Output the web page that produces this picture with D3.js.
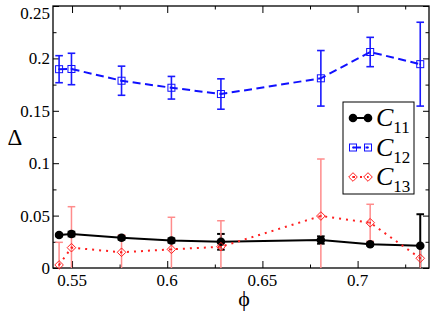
<!DOCTYPE html>
<html>
<head>
<meta charset="utf-8">
<script src="https://cdn.jsdelivr.net/npm/d3@7"></script>
<style>
  body { margin: 0; background: #fff; }
  svg { display: block; }
</style>
</head>
<body>
<div id="chart"></div>
<script>
// --- data ---
const phi    = [0.5432, 0.5497, 0.5760, 0.6022, 0.6282, 0.6807, 0.7066, 0.7329];
const c11    = [0.0315, 0.0324, 0.0288, 0.0262, 0.0250, 0.0267, 0.0226, 0.0213];
const c11Err = [0.0012, 0.0022, 0.0018, 0.0020, 0.0075, 0.0035, 0.0012, 0.0300];
const c12    = [0.1897, 0.1899, 0.1787, 0.1720, 0.1660, 0.1810, 0.2061, 0.1945];
const c12Err = [0.0129, 0.0150, 0.0139, 0.0108, 0.0145, 0.0265, 0.0140, 0.0400];
const c13    = [0.0029, 0.0194, 0.0150, 0.0178, 0.0203, 0.0496, 0.0432, 0.0093];
const c13Err = [0.0216, 0.0391, 0.0165, 0.0306, 0.0248, 0.0544, 0.0176, 0.0120];

const xTicks = [0.55, 0.6, 0.65, 0.7];
const xMinor = [0.575, 0.625, 0.675, 0.725];
const yTicks = [0, 0.05, 0.1, 0.15, 0.2, 0.25];
const yMinor = [0.025, 0.075, 0.125, 0.175, 0.225];

const FONT = "'Liberation Serif', 'Times New Roman', Times, 'DejaVu Serif', serif";

const W = 436, H = 312;
const margin = { top: 6, right: 7, bottom: 44, left: 53 };
const iw = W - margin.left - margin.right;
const ih = H - margin.top - margin.bottom;

const svg = d3.select("#chart").append("svg").attr("width", W).attr("height", H)
  .attr("font-family", FONT).style("font-family", FONT);
const g = svg.append("g").attr("transform", `translate(${margin.left},${margin.top})`);

const x = d3.scaleLinear().domain([0.54, 0.7375]).range([0, iw]);
const y = d3.scaleLinear().domain([0, 0.25]).range([ih, 0]);

svg.append("defs").append("clipPath").attr("id", "plotclip")
  .append("rect").attr("width", iw).attr("height", ih);

// frame
g.append("rect").attr("width", iw).attr("height", ih)
  .attr("fill", "none").attr("stroke", "#000").attr("stroke-width", 1.3);

// ticks, pointing inward on all four sides
function tickAxis(axis, scale, values, len) {
  return axis(scale).tickValues(values).tickSize(len).tickFormat("");
}
const tickStyle = sel => {
  sel.select(".domain").remove();
  sel.selectAll("line").attr("stroke", "#000").attr("stroke-width", 1);
};
g.append("g").attr("transform", `translate(0,${ih})`).call(tickAxis(d3.axisTop, x, xTicks, 7)).call(tickStyle);
g.append("g").attr("transform", `translate(0,${ih})`).call(tickAxis(d3.axisTop, x, xMinor, 3.5)).call(tickStyle);
g.append("g").call(tickAxis(d3.axisBottom, x, xTicks, 7)).call(tickStyle);
g.append("g").call(tickAxis(d3.axisBottom, x, xMinor, 3.5)).call(tickStyle);
g.append("g").call(tickAxis(d3.axisRight, y, yTicks, 6)).call(tickStyle);
g.append("g").call(tickAxis(d3.axisRight, y, yMinor, 3.5)).call(tickStyle);
g.append("g").attr("transform", `translate(${iw},0)`).call(tickAxis(d3.axisLeft, y, yTicks, 6)).call(tickStyle);
g.append("g").attr("transform", `translate(${iw},0)`).call(tickAxis(d3.axisLeft, y, yMinor, 3.5)).call(tickStyle);

// tick labels
g.selectAll(".xl").data(xTicks).join("text")
  .attr("x", d => x(d)).attr("y", ih + 18)
  .attr("text-anchor", "middle").attr("font-size", 17)
  .text(d => d3.format("")(d));
g.selectAll(".yl").data(yTicks).join("text")
  .attr("x", -3).attr("y", d => Math.max(y(d) + 6, 13))
  .attr("text-anchor", "end").attr("font-size", 17)
  .text(d => d3.format("")(d));

// axis titles
svg.append("text").attr("x", 244).attr("y", 306).attr("text-anchor", "middle")
  .attr("font-size", 22).text("\u03d5");
svg.append("text").attr("x", 15).attr("y", 145).attr("text-anchor", "middle")
  .attr("font-size", 23).text("\u0394");

// --- series ---
const series = [
  { name: "11", vals: c11, errs: c11Err, color: "#000", bar: "#000", barW: 2, dash: null, lineW: 2, marker: "circle" },
  { name: "12", vals: c12, errs: c12Err, color: "#1010ff", bar: "#1a1aff", barW: 1.6, dash: "8,4.5", lineW: 2, marker: "square" },
  { name: "13", vals: c13, errs: c13Err, color: "#ff2020", bar: "#ff8c8c", barW: 1.5, dash: "2,5", lineW: 2, marker: "diamond" }
];

function drawMarker(sel, type, color) {
  if (type === "circle") {
    sel.append("circle").attr("r", 4.3).attr("fill", color);
  } else if (type === "square") {
    sel.append("rect").attr("x", -3.5).attr("y", -3.5).attr("width", 7).attr("height", 7)
      .attr("fill", "none").attr("stroke", color).attr("stroke-width", 1);
    sel.append("circle").attr("r", 0.9).attr("fill", color);
  } else {
    sel.append("path").attr("d", "M0,-4.3L4.3,0L0,4.3L-4.3,0Z")
      .attr("fill", "none").attr("stroke", color).attr("stroke-width", 1);
    sel.append("circle").attr("r", 0.9).attr("fill", color);
  }
}

const plot = g.append("g");
const line = d3.line().x(d => x(d[0])).y(d => y(d[1]));

// error bars first (under lines)
series.forEach(s => {
  const eb = plot.append("g").attr("clip-path", "url(#plotclip)")
    .attr("stroke", s.bar).attr("stroke-width", s.barW);
  phi.forEach((p, i) => {
    const px = x(p), y0 = y(s.vals[i] - s.errs[i]), y1 = y(s.vals[i] + s.errs[i]);
    eb.append("line").attr("x1", px).attr("x2", px).attr("y1", y0).attr("y2", y1);
    eb.append("line").attr("x1", px - 3.8).attr("x2", px + 3.8).attr("y1", y0).attr("y2", y0);
    eb.append("line").attr("x1", px - 3.8).attr("x2", px + 3.8).attr("y1", y1).attr("y2", y1);
  });
});

series.forEach(s => {
  const pts = phi.map((p, i) => [p, s.vals[i]]);
  plot.append("path").datum(pts).attr("d", line)
    .attr("fill", "none").attr("stroke", s.color).attr("stroke-width", s.lineW)
    .attr("stroke-dasharray", s.dash);
  pts.forEach(d => {
    const m = plot.append("g").attr("transform", `translate(${x(d[0])},${y(d[1])})`);
    drawMarker(m, s.marker, s.color);
  });
});

// --- legend ---
const lg = svg.append("g").attr("transform", "translate(343,102)");
lg.append("rect").attr("width", 71).attr("height", 92)
  .attr("fill", "#fff").attr("stroke", "#000").attr("stroke-width", 1);
series.forEach((s, i) => {
  const cy = 16 + i * 29.5;
  lg.append("line").attr("x1", 10).attr("x2", 25).attr("y1", cy).attr("y2", cy)
    .attr("stroke", s.color).attr("stroke-width", s.lineW).attr("stroke-dasharray", s.dash);
  drawMarker(lg.append("g").attr("transform", `translate(10,${cy})`), s.marker, s.color);
  drawMarker(lg.append("g").attr("transform", `translate(25,${cy})`), s.marker, s.color);
  const t = lg.append("text").attr("x", 33).attr("y", cy + 8).attr("font-size", 26);
  t.append("tspan").attr("font-style", "italic").text("C");
  t.append("tspan").attr("font-size", 17).attr("dy", 7).text(s.name);
});
</script>
</body>
</html>
